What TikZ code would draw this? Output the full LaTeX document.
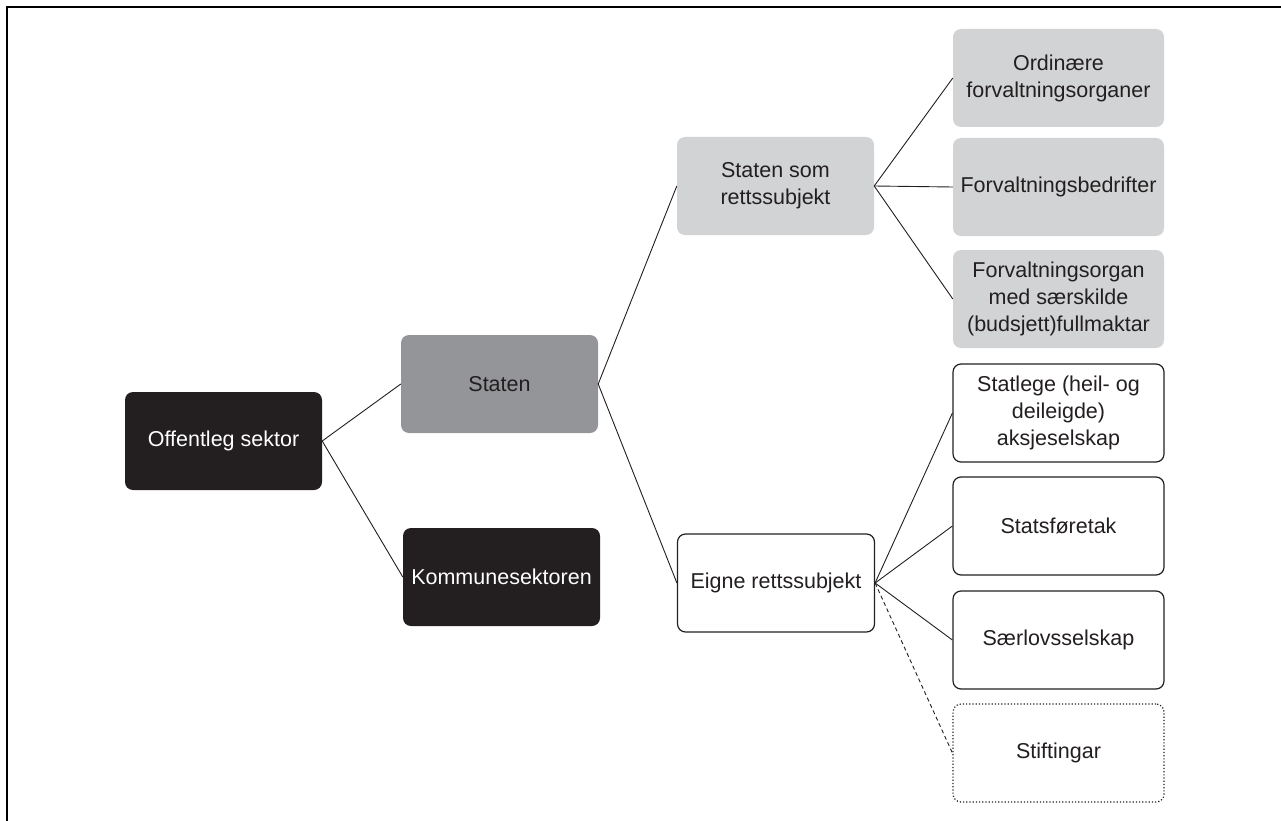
\documentclass[tikz,border=0pt]{standalone}
\usepackage{fontspec}
\setmainfont{Liberation Sans}
\definecolor{dk}{HTML}{231F20}
\definecolor{midg}{HTML}{939598}
\definecolor{lightg}{HTML}{D1D3D4}
\begin{document}
\begin{tikzpicture}[x=1pt,y=-1pt,
  box/.style={rounded corners=8pt, minimum width=197pt, minimum height=98pt, align=center,
    font=\fontsize{21.5}{27}\selectfont, inner sep=2pt, text=dk},
  darkbox/.style={box, fill=dk, text=white},
  midbox/.style={box, fill=midg},
  lightbox/.style={box, fill=lightg},
  outbox/.style={box, draw=dk, line width=1.2pt, fill=white},
  dotbox/.style={box, draw=dk, line width=1.2pt, dotted, fill=white},
  wide/.style={minimum width=211pt},
  conn/.style={draw=dk, line width=0.9pt},
  dconn/.style={conn, dash pattern=on 4pt off 3pt}]
\useasboundingbox (0,0) rectangle (1281,821);
\draw[line width=2.5pt] (7,821) -- (7,7) -- (1281,7);

\node[darkbox] (off) at (223.5,441) {Offentleg sektor};
\node[midbox] (stat) at (499.5,384) {Staten};
\node[darkbox] (kom) at (501.5,577) {Kommunesektoren};
\node[lightbox] (som) at (775.5,186) {Staten som\\rettssubjekt};
\node[outbox] (eig) at (776,583) {Eigne rettssubjekt};

\node[lightbox, wide] (ord) at (1058.5,78) {Ordinære\\forvaltningsorganer};
\node[lightbox, wide] (bed) at (1058.5,187) {Forvaltningsbedrifter};
\node[lightbox, wide] (org) at (1058.5,299) {Forvaltningsorgan\\med særskilde\\(budsjett)fullmaktar};
\node[outbox, wide] (akj) at (1058.5,413) {Statlege (heil- og\\deileigde)\\aksjeselskap};
\node[outbox, wide] (sft) at (1058.5,526) {Statsføretak};
\node[outbox, wide] (sls) at (1058.5,640) {Særlovsselskap};
\node[dotbox, wide] (sti) at (1058.5,753) {Stiftingar};

\draw[conn] (off.east) -- (stat.west);
\draw[conn] (off.east) -- (kom.west);
\draw[conn] (stat.east) -- (som.west);
\draw[conn] (stat.east) -- (eig.west);
\draw[conn] (som.east) -- (ord.west);
\draw[conn] (som.east) -- (bed.west);
\draw[conn] (som.east) -- (org.west);
\draw[conn] (eig.east) -- (akj.west);
\draw[conn] (eig.east) -- (sft.west);
\draw[conn] (eig.east) -- (sls.west);
\draw[dconn] (eig.east) -- (sti.west);
\end{tikzpicture}
\end{document}
